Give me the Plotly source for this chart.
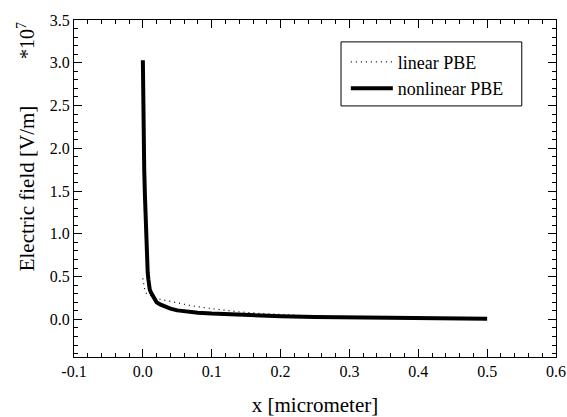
import plotly.graph_objects as go

# x in micrometer, E in units of 1e7 V/m
x_nonlinear = [0.0, 0.0003, 0.0006, 0.001, 0.0015, 0.002, 0.003, 0.004, 0.005, 0.006,
               0.007, 0.008, 0.009, 0.010, 0.012, 0.015, 0.02, 0.025, 0.03, 0.04,
               0.05, 0.06, 0.07, 0.08, 0.10, 0.12, 0.15, 0.20, 0.25, 0.30,
               0.35, 0.40, 0.45, 0.50]
e_nonlinear = [3.03, 2.7, 2.3, 2.1, 1.9, 1.75, 1.45, 1.1, 0.85, 0.66,
               0.55, 0.47, 0.40, 0.35, 0.31, 0.26, 0.20, 0.175, 0.155, 0.125,
               0.105, 0.093, 0.085, 0.078, 0.068, 0.06, 0.05, 0.036, 0.028, 0.022,
               0.017, 0.012, 0.009, 0.007]

x_linear = [0.0, 0.001, 0.002, 0.003, 0.005, 0.01, 0.018, 0.025, 0.035, 0.05,
            0.07, 0.10, 0.14, 0.17, 0.20, 0.25, 0.30, 0.35, 0.40, 0.45, 0.50]
e_linear = [0.48, 0.42, 0.36, 0.33, 0.305, 0.285, 0.255, 0.235, 0.22, 0.19,
            0.16, 0.125, 0.088, 0.07, 0.055, 0.036, 0.023, 0.015, 0.009, 0.006, 0.004]

x_tickvals = [-0.1, 0.0, 0.1, 0.2, 0.3, 0.4, 0.5, 0.6]
x_ticktext = ["-0.1", "0.0", "0.1", "0.2", "0.3", "0.4", "0.5", "0.6"]
y_tickvals = [0.0, 0.5, 1.0, 1.5, 2.0, 2.5, 3.0, 3.5]
y_ticktext = ["0.0", "0.5", "1.0", "1.5", "2.0", "2.5", "3.0", "3.5"]

FONT = "Liberation Serif"

fig = go.Figure()
fig.add_trace(go.Scatter(x=x_linear, y=e_linear, mode="lines", name="linear PBE",
                         line=dict(color="black", width=1.2, dash="1px,4px")))
fig.add_trace(go.Scatter(x=x_nonlinear, y=e_nonlinear, mode="lines", name="nonlinear PBE",
                         line=dict(color="black", width=4)))

axis_common = dict(showline=True, linecolor="black", linewidth=1, mirror="ticks",
                   ticks="inside", ticklen=8, tickwidth=1, tickcolor="black",
                   showgrid=False, zeroline=False,
                   tickfont=dict(family=FONT, size=16, color="black"))

fig.update_layout(
    template="none",
    width=567, height=417,
    margin=dict(l=74, r=11, t=20, b=60),
    paper_bgcolor="white", plot_bgcolor="white",
    font=dict(family=FONT, color="black"),
    xaxis=dict(range=[-0.1, 0.6], tickvals=x_tickvals, ticktext=x_ticktext,
               minor=dict(dtick=0.02, tick0=0, ticklen=4, ticks="inside", tickcolor="black"),
               title=dict(text="x [micrometer]", font=dict(family=FONT, size=21)),
               automargin=False, **axis_common),
    yaxis=dict(range=[-0.44, 3.5], tickvals=y_tickvals, ticktext=y_ticktext,
               minor=dict(dtick=0.1, tick0=0, ticklen=4, ticks="inside", tickcolor="black"),
               title=dict(text="Electric field [V/m]", font=dict(family=FONT, size=21), standoff=9),
               automargin=True, **axis_common),
    legend=dict(x=0.564, y=0.93, xanchor="left", yanchor="top",
                borderwidth=0, bgcolor="rgba(0,0,0,0)", itemwidth=42,
                font=dict(family=FONT, size=18, color="black")),
    showlegend=True,
)

# legend frame
fig.add_shape(type="rect", xref="paper", yref="paper",
              x0=0.554, x1=0.929, y0=0.745, y1=0.935,
              line=dict(color="black", width=1), fillcolor="white", layer="below")

fig.add_annotation(text="*10<sup>7</sup>", xref="paper", yref="paper",
                   x=-0.1, y=0.94, xanchor="center", yanchor="middle",
                   showarrow=False, textangle=-90,
                   font=dict(family=FONT, size=20, color="black"))

fig.write_html("out.html", config={"displayModeBar": False},
               post_script="document.body.style.margin='0';"
                           "document.body.style.overflow='hidden';")
